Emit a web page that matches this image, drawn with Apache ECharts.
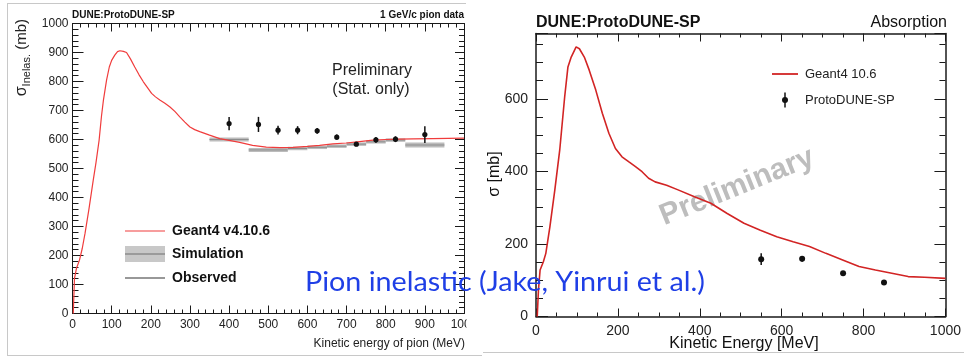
<!DOCTYPE html>
<html><head><meta charset="utf-8">
<script src="https://cdn.jsdelivr.net/npm/echarts@6/dist/echarts.min.js"></script>
<style>html,body{margin:0;padding:0;background:#fff}#c{width:964px;height:357px}</style>
</head><body><div id="c"></div>
<script>
// ---------- data ----------
// Left panel: Geant4 v4.10.6 pion inelastic cross section (MeV, mb)
const g4InelE  = [2,5,10,18,25,32,42,53,60,68,74,79,87,94,100,108,115,121,130,138,148,159,170,181,192,202,212,223,236,249,262,274,287,300,312,325,350,376,400,427,460,495,530,563,600,631,665,699,733,767,800,835,870,920,960,1000];
const g4InelXS = [0,120,155,185,225,276,360,460,520,598,680,736,805,850,873,891,903,906,904,900,878,850,823,799,778,759,747,736,725,712,696,678,660,643,634,627,615,603,597,590,580,574,572,573,576,580,585,588,593,598,600,601,602,603,604,605];
// Left panel: simulation bands
const simLo  = [350,450,550,600,650,700,750,800,850];
const simHi  = [450,550,600,650,700,750,800,850,950];
const simXS  = [600,564,569,573,577,584,592,598,581];
const simErr = [7,7,6,6,6,6,6,6,9];
// Left panel: observed data
const obsE   = [400,475,525,575,625,675,725,775,825,900];
const obsXS  = [655,652,632,632,630,608,584,599,601,617];
const obsErr = [23,26,15,14,10,9,7,10,10,29];
// Right panel: Geant4 10.6 absorption
const absE  = [3,6,10,18,24,34,46,58,70,78,86,98,106,118,130,146,162,178,194,210,227,243,259,275,291,319,347,387,427,467,508,548,588,628,668,708,749,789,829,869,909,949,1000];
const absXS = [0,73,128,151,174,248,349,459,605,688,715,743,738,715,679,624,560,505,463,440,426,413,399,381,371,362,349,330,312,284,257,238,220,206,193,174,156,138,128,119,110,108,105];
// Right panel: ProtoDUNE-SP absorption data
const pdE   = [550,650,750,850];
const pdXS  = [158,159,119,94];
const pdErr = [16,8,5,5];

// ---------- chart ----------
const FF = 'Liberation Sans, Arial, Helvetica, sans-serif';
const chart = echarts.init(document.getElementById('c'), null, {renderer:'canvas'});
const plain = function(v){ return String(v); };

function errRender(r, col){
  return function(params, api){
    const x = api.value(0), y = api.value(1), e = api.value(2);
    const c = api.coord([x, y]), t = api.coord([x, y + e]), b = api.coord([x, y - e]);
    return {type:'group', children:[
      {type:'line', shape:{x1:c[0], y1:t[1], x2:c[0], y2:b[1]}, style:{stroke:col, lineWidth:1.5}},
      {type:'circle', shape:{cx:c[0], cy:c[1], r:r}, style:{fill:col}}
    ]};
  };
}

function xAx(grid, pos, max, interval, split, tl, ml, lab){
  return {gridIndex:grid, type:'value', position:pos, min:0, max:max, interval:interval,
    axisLine:{show:true, onZero:false, lineStyle:{color:'#1a1a1a', width:grid===1?1.5:1}},
    axisTick:{show:true, inside:true, length:tl, lineStyle:{color:'#1a1a1a'}},
    minorTick:{show:true, splitNumber:split, length:ml, lineStyle:{color:'#1a1a1a'}},
    splitLine:{show:false}, minorSplitLine:{show:false},
    axisLabel: lab ? Object.assign({show:true, fontFamily:FF, color:'#222', formatter:plain}, lab) : {show:false}};
}
function yAx(grid, pos, max, interval, split, tl, ml, lab, line){
  return {gridIndex:grid, type:'value', position:pos, min:0, max:max, interval:interval,
    axisLine:{show:line!==false, onZero:false, lineStyle:{color:'#1a1a1a', width:grid===1?1.5:1}},
    axisTick:{show:true, inside:true, length:tl, lineStyle:{color:'#1a1a1a'}},
    minorTick:{show:split>0, splitNumber:split||1, length:ml, lineStyle:{color:'#1a1a1a'}},
    splitLine:{show:false}, minorSplitLine:{show:false},
    axisLabel: lab ? Object.assign({show:true, fontFamily:FF, color:'#222', formatter:plain}, lab) : {show:false}};
}

const blueText = 'Pion inelastic (Jake, Yinrui et al.)';
const mctx = document.createElement('canvas').getContext('2d');
mctx.font = '26px Lato';
const bScale = 400 / mctx.measureText(blueText).width;

const option = {
  animation:false,
  backgroundColor:'#fff',
  textStyle:{fontFamily:FF},
  grid:[
    {left:72.5, top:23.5, width:391.5, height:290},
    {left:536, top:33.5, width:415, height:283}
  ],
  xAxis:[
    xAx(0,'bottom',1000,100,5,8,4,{fontSize:12, margin:5}),
    xAx(0,'top',1000,100,5,8,4,null),
    xAx(1,'bottom',1000,200,4,8,4,{fontSize:14, margin:8}),
    xAx(1,'top',1000,200,4,8,4,null)
  ],
  yAxis:[
    yAx(0,'left',1000,100,5,11,6,{fontSize:12, margin:4}),
    yAx(0,'right',1000,100,5,9,5,null),
    yAx(1,'left',780,200,0,12,0,{fontSize:14, margin:8, formatter:function(v){return v%200===0?String(v):'';}}),
    yAx(1,'left',780,50,0,7,0,null,false),
    yAx(1,'right',780,200,0,11,0,null),
    yAx(1,'right',780,50,0,6,0,null,false)
  ],
  series:[
    {type:'custom', name:'Simulation', xAxisIndex:0, yAxisIndex:0, z:2,
      data: simLo.map((v,i)=>[v, simHi[i], simXS[i], simErr[i]]),
      encode:{x:[0,1], y:[2]},
      renderItem:function(params, api){
        const lo=api.value(0), hi=api.value(1), v=api.value(2), e=api.value(3);
        const a=api.coord([lo, v+e]), b=api.coord([hi, v-e]), m=api.coord([lo, v]), n=api.coord([hi, v]);
        return {type:'group', children:[
          {type:'rect', shape:{x:a[0], y:a[1], width:b[0]-a[0], height:b[1]-a[1]}, style:{fill:'#bcbcbc'}},
          {type:'line', shape:{x1:m[0], y1:m[1], x2:n[0], y2:n[1]}, style:{stroke:'#8c8c8c', lineWidth:1}}
        ]};
      }},
    {type:'line', name:'Geant4 v4.10.6', xAxisIndex:0, yAxisIndex:0, z:3,
      data: g4InelE.map((e,i)=>[e, g4InelXS[i]]), showSymbol:false, symbol:'none',
      lineStyle:{color:'#f03c3c', width:1.2}, itemStyle:{color:'#f03c3c'}},
    {type:'custom', name:'Observed', xAxisIndex:0, yAxisIndex:0, z:4,
      data: obsE.map((e,i)=>[e, obsXS[i], obsErr[i]]), encode:{x:0, y:1},
      renderItem: errRender(2.6, '#111')},
    {type:'line', name:'Geant4 10.6', xAxisIndex:2, yAxisIndex:2, z:3,
      data: absE.map((e,i)=>[e, absXS[i]]), showSymbol:false, symbol:'none',
      lineStyle:{color:'#d22424', width:1.6}, itemStyle:{color:'#d22424'}},
    {type:'custom', name:'ProtoDUNE-SP', xAxisIndex:2, yAxisIndex:2, z:4,
      data: pdE.map((e,i)=>[e, pdXS[i], pdErr[i]]), encode:{x:0, y:1},
      renderItem: errRender(3, '#111')}
  ],
  graphic:[
    // image borders
    {type:'line', shape:{x1:7, y1:3.5, x2:466, y2:3.5}, style:{stroke:'#c8c8c8', lineWidth:1}},
    {type:'line', shape:{x1:7.5, y1:3, x2:7.5, y2:355}, style:{stroke:'#c8c8c8', lineWidth:1}},
    {type:'line', shape:{x1:7, y1:355.5, x2:482, y2:355.5}, style:{stroke:'#c8c8c8', lineWidth:1}},
    {type:'line', shape:{x1:483, y1:352.5, x2:964, y2:352.5}, style:{stroke:'#c8c8c8', lineWidth:1}},
    // cover (right image overlapping left image)
    {type:'rect', z:50, shape:{x:466.5, y:316, width:18, height:20}, style:{fill:'#fff'}},
    // left panel texts
    {type:'text', x:72, y:15, style:{text:'DUNE:ProtoDUNE-SP', fontSize:10, fontWeight:'bold', fontFamily:FF, fill:'#111', align:'left', verticalAlign:'middle'}},
    {type:'text', x:464, y:15, style:{text:'1 GeV/c pion data', fontSize:10, fontWeight:'bold', fontFamily:FF, fill:'#111', align:'right', verticalAlign:'middle'}},
    {type:'text', x:22, y:19, rotation:Math.PI/2,
      style:{text:'{s|σ}{sub|Inelas.}{m| (mb)}', align:'right', verticalAlign:'middle',
        rich:{s:{fontSize:16, fontFamily:FF, fill:'#222', lineHeight:20, verticalAlign:'middle'},
              sub:{fontSize:11, fontFamily:FF, fill:'#222', lineHeight:11, verticalAlign:'bottom'},
              m:{fontSize:15, fontFamily:FF, fill:'#222', lineHeight:20, verticalAlign:'middle'}}}},
    {type:'text', x:465, y:344, style:{text:'Kinetic energy of pion (MeV)', fontSize:12, fontFamily:FF, fill:'#222', align:'right', verticalAlign:'middle'}},
    {type:'text', x:372, y:71, style:{text:'Preliminary', fontSize:16, fontFamily:FF, fill:'#222', align:'center', verticalAlign:'middle'}},
    {type:'text', x:371, y:89.5, style:{text:'(Stat. only)', fontSize:16, fontFamily:FF, fill:'#222', align:'center', verticalAlign:'middle'}},
    // left legend
    {type:'line', shape:{x1:125, y1:231, x2:165, y2:231}, style:{stroke:'#f03c3c', lineWidth:1.2}},
    {type:'text', x:172, y:231, style:{text:'Geant4 v4.10.6', fontSize:14, fontWeight:'bold', fontFamily:FF, fill:'#111', align:'left', verticalAlign:'middle'}},
    {type:'rect', shape:{x:125, y:246, width:40, height:16}, style:{fill:'#c8c8c8'}},
    {type:'line', shape:{x1:125, y1:254, x2:165, y2:254}, style:{stroke:'#6e6e6e', lineWidth:1.2}},
    {type:'text', x:172, y:254, style:{text:'Simulation', fontSize:14, fontWeight:'bold', fontFamily:FF, fill:'#111', align:'left', verticalAlign:'middle'}},
    {type:'line', shape:{x1:125, y1:278, x2:165, y2:278}, style:{stroke:'#333', lineWidth:1.2}},
    {type:'text', x:172, y:278, style:{text:'Observed', fontSize:14, fontWeight:'bold', fontFamily:FF, fill:'#111', align:'left', verticalAlign:'middle'}},
    // right panel texts
    {type:'text', x:536, y:23, style:{text:'DUNE:ProtoDUNE-SP', fontSize:16, fontWeight:'bold', fontFamily:FF, fill:'#111', align:'left', verticalAlign:'middle'}},
    {type:'text', x:947, y:23, style:{text:'Absorption', fontSize:16, fontFamily:FF, fill:'#111', align:'right', verticalAlign:'middle'}},
    {type:'text', x:495, y:174, rotation:Math.PI/2, style:{text:'σ [mb]', fontSize:16, fontFamily:FF, fill:'#111', align:'center', verticalAlign:'middle'}},
    {type:'text', x:744, y:344, style:{text:'Kinetic Energy [MeV]', fontSize:16, fontFamily:FF, fill:'#111', align:'center', verticalAlign:'middle'}},
    // right legend
    {type:'line', shape:{x1:772, y1:74, x2:798, y2:74}, style:{stroke:'#d22424', lineWidth:1.8}},
    {type:'text', x:805, y:74, style:{text:'Geant4 10.6', fontSize:13, fontFamily:FF, fill:'#222', align:'left', verticalAlign:'middle'}},
    {type:'line', shape:{x1:785, y1:92.5, x2:785, y2:107.5}, style:{stroke:'#111', lineWidth:1.5}},
    {type:'circle', shape:{cx:785, cy:100, r:3}, style:{fill:'#111'}},
    {type:'text', x:805, y:100, style:{text:'ProtoDUNE-SP', fontSize:13, fontFamily:FF, fill:'#222', align:'left', verticalAlign:'middle'}},
    // watermark
    {type:'text', x:737, y:187, rotation:22*Math.PI/180, z:1,
      style:{text:'Preliminary', fontSize:30, fontWeight:'bold', fontFamily:FF, fill:'#bdbdbd', align:'center', verticalAlign:'middle'}},
    // slide overlay text
    {type:'text', x:305, y:283, scaleX:bScale, z:60,
      style:{text:blueText, fontSize:26, fontFamily:'Lato, Open Sans, sans-serif', fill:'#1f3fe6', align:'left', verticalAlign:'middle'}}
  ]
};
chart.setOption(option);
</script>
</body></html>
